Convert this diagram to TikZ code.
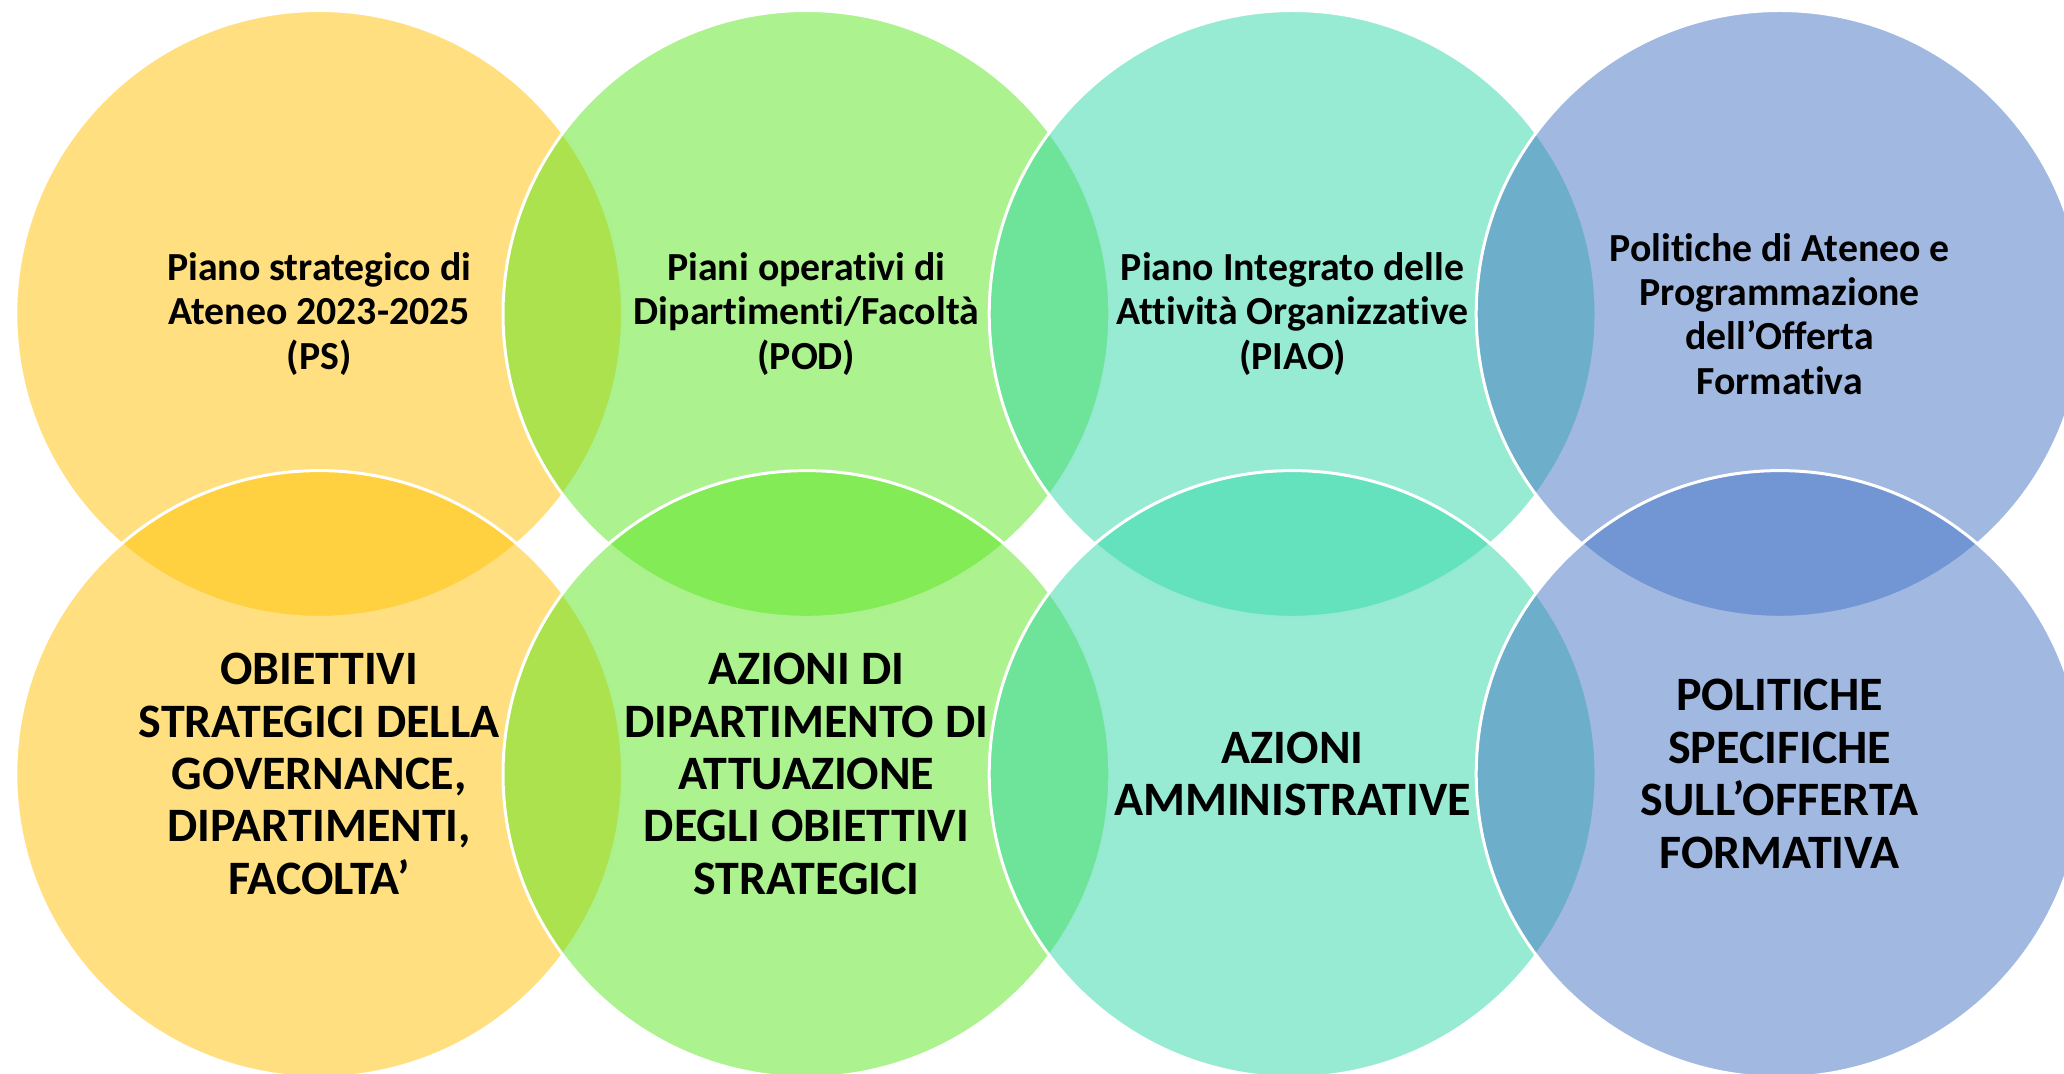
\documentclass[tikz,border=0pt]{standalone}
\usepackage{fontspec}
\setmainfont{Carlito}[Ligatures=NoCommon]
\definecolor{cY}{HTML}{FFC000}
\definecolor{cG}{RGB}{89,229,29}
\definecolor{cT}{RGB}{49,215,167}
\definecolor{cB}{HTML}{4472C4}
\begin{document}
\begin{tikzpicture}[x=0.5pt,y=-0.5pt,
 venn/.style={circle,minimum size=303.4pt,inner sep=0pt,outer sep=0pt,draw=white,line width=1.5pt,fill opacity=0.5,draw opacity=1},
 toptxt/.style={align=center,inner sep=0pt,font=\fontsize{19.9}{22.2}\selectfont\bfseries,text=black},
 bottxt/.style={align=center,inner sep=0pt,font=\fontsize{24}{26.2}\selectfont\bfseries,text=black}]
\useasboundingbox (0,0) rectangle (2064,1074);
\clip (0,0) rectangle (2064,1074);
% top row
\node[venn,fill=cY] (c1) at (319.2,313.9) {};
\node[venn,fill=cG] (c2) at (806.4,313.9) {};
\node[venn,fill=cT] (c3) at (1292.6,313.9) {};
\node[venn,fill=cB] (c4) at (1779.6,313.9) {};
% bottom row
\node[venn,fill=cY] (c5) at (319.2,774) {};
\node[venn,fill=cG] (c6) at (806.4,774) {};
\node[venn,fill=cT] (c7) at (1292.6,774) {};
\node[venn,fill=cB] (c8) at (1779.6,774) {};
% texts
\node[toptxt] (t1) at (c1.center) {Piano strategico di\\Ateneo 2023-2025\\(PS)};
\node[toptxt] (t2) at (c2.center) {Piani operativi di\\Dipartimenti/Facoltà\\(POD)};
\node[toptxt] (t3) at (c3.center) {Piano Integrato delle\\Attività Organizzative\\(PIAO)};
\node[toptxt] (t4) at (c4.center) {Politiche di Ateneo e\\Programmazione\\dell’Offerta\\Formativa};
\node[bottxt] (t5) at (c5.center) {OBIETTIVI\\STRATEGICI DELLA\\GOVERNANCE,\\DIPARTIMENTI,\\FACOLTA’};
\node[bottxt] (t6) at (c6.center) {AZIONI DI\\DIPARTIMENTO DI\\ATTUAZIONE\\DEGLI OBIETTIVI\\STRATEGICI};
\node[bottxt] (t7) at (c7.center) {AZIONI\\AMMINISTRATIVE};
\node[bottxt] (t8) at (c8.center) {POLITICHE\\SPECIFICHE\\SULL’OFFERTA\\FORMATIVA};
\end{tikzpicture}
\end{document}
